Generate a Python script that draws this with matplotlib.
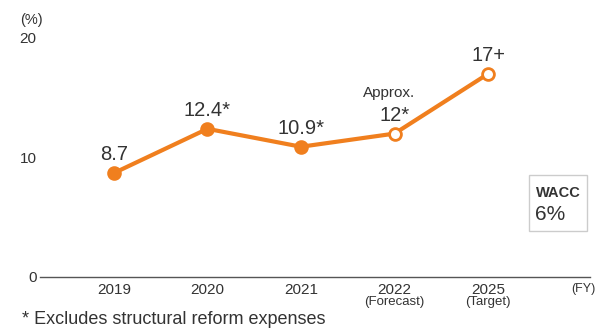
import matplotlib.pyplot as plt

plt.rcParams['font.family'] = ['Liberation Sans', 'DejaVu Sans']

years = ['2019', '2020', '2021', '2022', '2025']
subs = ['', '', '', '(Forecast)', '(Target)']
roe = [8.7, 12.4, 10.9, 12, 17]
labels = ['8.7', '12.4*', '10.9*', '12*', '17+']
hollow = [False, False, False, True, True]

orange = '#f07f1e'
grey = '#333333'
narrow = ['Liberation Sans Narrow', 'Liberation Sans', 'DejaVu Sans']

fig = plt.figure(figsize=(5.98, 3.28), dpi=100)
ax = fig.add_axes([40 / 598, 1 - 277 / 328, 550 / 598, (277 - 38) / 328])

x = list(range(len(years)))
ax.plot(x, roe, color=orange, lw=3, zorder=2, clip_on=False)
for i, v in enumerate(roe):
    fc = 'white' if hollow[i] else orange
    ax.plot(i, v, 'o', ms=8.5, mfc=fc, mec=orange, mew=2, zorder=3, clip_on=False)
    ax.annotate(labels[i], (i, v), xytext=(0, 6.5), textcoords='offset points',
                ha='center', va='bottom', fontsize=14.5, color=grey)
# "Approx." above the 2022 value
ax.annotate('Approx.', (3, roe[3]), xytext=(-4, 29.5), textcoords='offset points',
            ha='center', va='center', fontsize=11, color=grey)

ax.set_xlim(-0.79, 5.09)
ax.set_ylim(0, 20)
ax.set_yticks([0, 10, 20])
ax.set_yticklabels(['0', '10', '20'], fontsize=11, color=grey)
ax.set_xticks(x)
ax.set_xticklabels(years, fontsize=11, color=grey)
ax.tick_params(axis='both', length=0, pad=2.5)
ax.tick_params(axis='x', pad=4.5)
for s in ['top', 'right', 'left']:
    ax.spines[s].set_visible(False)
ax.spines['bottom'].set_color('#555555')
ax.spines['bottom'].set_linewidth(1)

for i, s in enumerate(subs):
    if s:
        ax.annotate(s, (i, 0), xytext=(0, -18), textcoords='offset points',
                    ha='center', va='center', fontsize=9.5, color=grey,
                    family=narrow)

fig.text(20 / 598, 1 - 20 / 328, '(%)', fontsize=10.5, color=grey, va='center')
fig.text(583 / 598, 1 - 289 / 328, '(FY)', fontsize=9, color=grey, va='center',
         ha='center', family=narrow)
fig.text(22 / 598, 1 - 320 / 328, '* Excludes structural reform expenses',
         fontsize=13, color=grey, va='center')

# WACC box
box = plt.Rectangle((529 / 598, 1 - 231 / 328), 58 / 598, 56 / 328,
                    transform=fig.transFigure, fc='white', ec='#cccccc', lw=1)
fig.add_artist(box)
fig.text(536 / 598, 1 - 193 / 328, 'WACC', fontsize=10.5, fontweight='bold',
         color=grey, va='center')
fig.text(535 / 598, 1 - 215 / 328, '6%', fontsize=15, color=grey, va='center')

fig.savefig('out.png', dpi=100)
